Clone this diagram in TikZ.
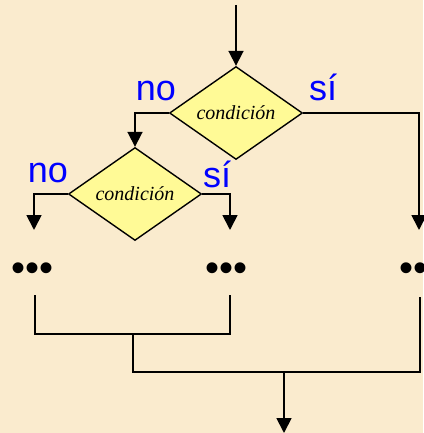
\documentclass[tikz,border=0pt]{standalone}
\usepackage{fontspec}
\setmainfont{Liberation Serif}
\setsansfont{Liberation Sans}
\usetikzlibrary{arrows.meta,shapes.geometric}
\definecolor{paper}{RGB}{250,235,206}
\definecolor{decfill}{RGB}{255,250,150}
\definecolor{lblblue}{RGB}{0,0,255}
\begin{document}
\begin{tikzpicture}[x=1pt,y=-1pt,
  line/.style={line width=1.8pt, black},
  arr/.style={line, -{Triangle[width=15pt,length=15pt]}},
  decision/.style={diamond, draw=black, line width=1.4pt, fill=decfill,
    minimum width=133pt, minimum height=89pt, inner sep=0pt,
    font=\fontsize{20}{22}\selectfont\itshape},
  answer/.style={anchor=base, text=lblblue, inner sep=0pt,
    font=\sffamily\fontsize{36}{40}\selectfont},
  more/.style={inner sep=0pt, font=\sffamily\fontsize{40}{40}\selectfont}]
\fill[paper] (0,0) rectangle (423,433);
\useasboundingbox (0,0) rectangle (423,433);

% decisions
\node[decision] (d1) at (236,113) {condición};
\node[decision] (d2) at (135,194) {condición};

% branch labels
\node[answer] (n1) at (156,100) {no};
\node[answer] (s1) at (323,100) {sí};
\node[answer] (n2) at (48,182) {no};
\node[answer] (s2) at (217,187) {sí};

% entry
\coordinate (top) at (236,5);
\draw[arr] (top) -- (d1.north);

% branches of the outer decision
\coordinate (rEnd) at (419,230);
\draw[arr] (d1.west) -| (d2.north);
\draw[arr] (d1.east) -| (rEnd);

% branches of the inner decision
\coordinate (aEnd) at (34,230);
\coordinate (bEnd) at (230,230);
\draw[arr] (d2.west) -| (aEnd);
\draw[arr] (d2.east) -| (bEnd);

% elided blocks (the right one runs past the page edge)
\node[more] (dl) at (33,272) {•••};
\node[more] (dm) at (227,272) {•••};
\node[more] (dr) at (420,272) {•••};

% merging
\coordinate (l1) at (35,295);
\coordinate (m1) at (230,295);
\coordinate (r1) at (420,297);
\coordinate (jl) at (133,334);
\coordinate (j2) at (284,372);
\coordinate (out) at (284,433);
\draw[line] (l1) |- (jl) -| (m1);
\draw[line] (jl) |- (j2) -| (r1);
\draw[arr] (j2) -- (out);
\end{tikzpicture}
\end{document}
